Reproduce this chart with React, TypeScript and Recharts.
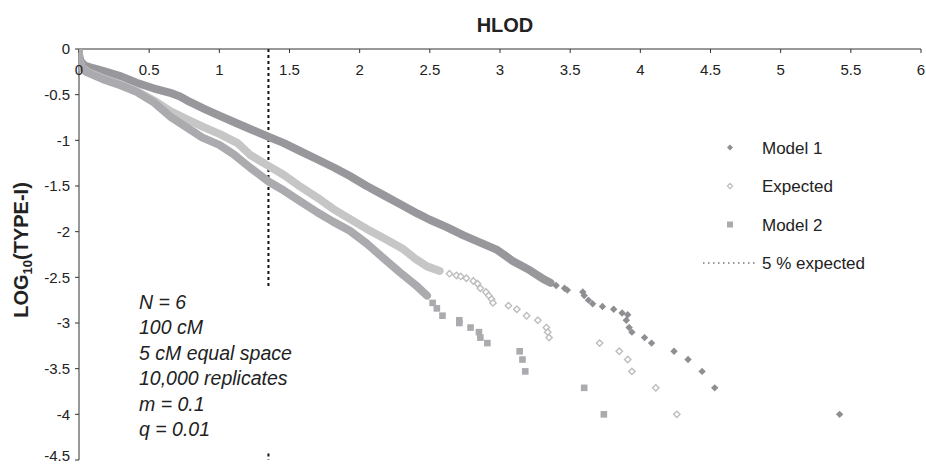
import React from 'react';
import { ScatterChart, Scatter, XAxis, YAxis, ReferenceLine } from 'recharts';

const xTicks = [0, 0.5, 1, 1.5, 2, 2.5, 3, 3.5, 4, 4.5, 5, 5.5, 6];
const yTicks = [0, -0.5, -1, -1.5, -2, -2.5, -3, -3.5, -4, -4.5];

// HLOD cut-off for 5 % expected type-I error
const cutoffX = 1.35;

// dense part of each curve: the points overlap into a solid band
const model1Band: [number, number][] = [
  [0.0, -0.06], [0.01, -0.13], [0.04, -0.18], [0.1, -0.21], [0.17, -0.24], [0.3, -0.3],
  [0.41, -0.37], [0.53, -0.43], [0.65, -0.48], [0.72, -0.52], [0.79, -0.58], [0.9, -0.66],
  [1.0, -0.73], [1.12, -0.81], [1.24, -0.89], [1.35, -0.96], [1.46, -1.03], [1.58, -1.12],
  [1.7, -1.21], [1.82, -1.3], [1.93, -1.39], [2.05, -1.5], [2.17, -1.6], [2.29, -1.7],
  [2.41, -1.8], [2.5, -1.87], [2.62, -1.95], [2.74, -2.04], [2.86, -2.12], [2.98, -2.2],
  [3.09, -2.32], [3.21, -2.42], [3.31, -2.52], [3.36, -2.56],
];
const model1Tail: [number, number][] = [
  [3.4, -2.59], [3.46, -2.62], [3.48, -2.64], [3.59, -2.66], [3.6, -2.7], [3.63, -2.75],
  [3.66, -2.79], [3.73, -2.82], [3.81, -2.85], [3.87, -2.89], [3.91, -2.91], [3.9, -2.97],
  [3.92, -3.05], [3.94, -3.1], [4.03, -3.16], [4.08, -3.22], [4.24, -3.31], [4.34, -3.4],
  [4.44, -3.53], [4.53, -3.71], [5.42, -4.0],
];

const expectedBand: [number, number][] = [
  [0.0, -0.03], [0.0, -0.12], [0.02, -0.2], [0.06, -0.25], [0.17, -0.32], [0.3, -0.39],
  [0.41, -0.46], [0.53, -0.56], [0.65, -0.68], [0.77, -0.77], [0.88, -0.85], [1.0, -0.93],
  [1.13, -1.03], [1.22, -1.16], [1.35, -1.28], [1.46, -1.38], [1.58, -1.51], [1.72, -1.65],
  [1.81, -1.75], [1.93, -1.86], [2.05, -1.97], [2.17, -2.07], [2.31, -2.19], [2.4, -2.3],
  [2.48, -2.38], [2.57, -2.43],
];
const expectedTail: [number, number][] = [
  [2.64, -2.46], [2.69, -2.48], [2.72, -2.49], [2.76, -2.51], [2.81, -2.54], [2.84, -2.57],
  [2.86, -2.62], [2.9, -2.66], [2.92, -2.7], [2.94, -2.74], [2.95, -2.78], [3.06, -2.81],
  [3.12, -2.85], [3.19, -2.92], [3.27, -2.97], [3.33, -3.05], [3.34, -3.1], [3.35, -3.16],
  [3.71, -3.22], [3.85, -3.31], [3.91, -3.4], [3.94, -3.53], [4.11, -3.71], [4.26, -4.0],
];

const model2Band: [number, number][] = [
  [0.0, 0.0], [0.0, -0.1], [0.01, -0.18], [0.05, -0.25], [0.17, -0.33], [0.3, -0.4],
  [0.41, -0.47], [0.53, -0.58], [0.65, -0.74], [0.77, -0.86], [0.88, -0.97], [1.0, -1.05],
  [1.1, -1.15], [1.22, -1.3], [1.35, -1.45], [1.46, -1.55], [1.58, -1.67], [1.7, -1.79],
  [1.81, -1.89], [1.93, -1.99], [2.05, -2.13], [2.17, -2.29], [2.29, -2.45], [2.41, -2.6],
  [2.48, -2.7],
];
const model2Tail: [number, number][] = [
  [2.52, -2.78], [2.55, -2.84], [2.59, -2.92], [2.71, -2.97], [2.71, -3.0], [2.79, -3.05],
  [2.85, -3.1], [2.86, -3.16], [2.91, -3.22], [3.14, -3.31], [3.16, -3.4], [3.18, -3.53],
  [3.6, -3.71], [3.74, -4.0],
];

const notes = ['N = 6', '100 cM', '5 cM equal space', '10,000 replicates', 'm = 0.1', 'q = 0.01'];

const FONT = '"Liberation Sans", Arial, sans-serif';
const TEXT = '#222';
const MODEL1 = '#8f8f93';
const MODEL1_BAND = '#98989c';
const EXPECTED = '#bdbdbd';
const EXPECTED_BAND = '#c6c6c6';
const MODEL2 = '#ababaf';

const toPoints = (pts: [number, number][]) => pts.map(([x, y]) => ({ x, y }));

const DiamondDot = (props: any) => {
  const { cx, cy } = props;
  const r = 3.7;
  return <path d={`M${cx},${cy - r}L${cx + r},${cy}L${cx},${cy + r}L${cx - r},${cy}Z`} fill={MODEL1} />;
};

const OpenDiamondDot = (props: any) => {
  const { cx, cy } = props;
  const r = 3.2;
  return (
    <path
      d={`M${cx},${cy - r}L${cx + r},${cy}L${cx},${cy + r}L${cx - r},${cy}Z`}
      fill="#fff"
      stroke={EXPECTED}
      strokeWidth={1.4}
    />
  );
};

const SquareDot = (props: any) => {
  const { cx, cy } = props;
  return <rect x={cx - 3.3} y={cy - 3.3} width={6.6} height={6.6} fill={MODEL2} />;
};

const NoDot = () => <g />;

const legendItems = [
  { name: 'Model 1', kind: 'diamond' },
  { name: 'Expected', kind: 'open' },
  { name: 'Model 2', kind: 'square' },
  { name: '5 % expected', kind: 'dotted' },
];

const LegendMarker = ({ kind, cy }: { kind: string; cy: number }) => {
  const cx = 730;
  if (kind === 'diamond') {
    const r = 3;
    return <path d={`M${cx},${cy - r}L${cx + r},${cy}L${cx},${cy + r}L${cx - r},${cy}Z`} fill={MODEL1} />;
  }
  if (kind === 'open') {
    const r = 2.6;
    return (
      <path
        d={`M${cx},${cy - r}L${cx + r},${cy}L${cx},${cy + r}L${cx - r},${cy}Z`}
        fill="#fff"
        stroke={EXPECTED}
        strokeWidth={1.2}
      />
    );
  }
  if (kind === 'square') {
    return <rect x={cx - 3} y={cy - 3} width={6} height={6} fill={MODEL2} />;
  }
  return <line x1={703} x2={756} y1={cy} y2={cy} stroke="#333" strokeWidth={1} strokeDasharray="1.5 3.5" />;
};

const Overlay = () => (
  <svg
    width={926}
    height={464}
    style={{ position: 'absolute', left: 0, top: 0, pointerEvents: 'none', fontFamily: FONT }}
  >
    <text x={505} y={31.5} textAnchor="middle" fontSize={20} fontWeight="bold" fill={TEXT}>
      HLOD
    </text>
    <text transform="translate(28,250) rotate(-90)" textAnchor="middle" fontSize={20} fontWeight="bold" fill={TEXT}>
      LOG
      <tspan fontSize={13} dy={4}>10</tspan>
      <tspan dy={-4}>(TYPE-I)</tspan>
    </text>
    {notes.map((line, i) => (
      <text key={line} x={139} y={308.5 + i * 25.5} fontSize={19.5} fontStyle="italic" fill={TEXT}>
        {line}
      </text>
    ))}
    {legendItems.map((item, i) => {
      const cy = 147.5 + i * 38.5;
      return (
        <g key={item.name}>
          <LegendMarker kind={item.kind} cy={cy} />
          <text x={762} y={cy + 6} fontSize={17} fill={TEXT}>
            {item.name}
          </text>
        </g>
      );
    })}
  </svg>
);

export default function App() {
  return (
    <div style={{ position: 'fixed', left: 0, top: 0, width: 926, height: 464, background: '#fff' }}>
      <ScatterChart
        width={926}
        height={464}
        margin={{ top: 49, right: 5, bottom: 4, left: 0 }}
        style={{ fontFamily: FONT }}
      >
        <XAxis
          type="number"
          dataKey="x"
          orientation="top"
          mirror
          domain={[0, 6]}
          ticks={xTicks}
          allowDataOverflow
          tickSize={4}
          tickMargin={11}
          stroke="#333"
          tick={{ fill: TEXT, fontSize: 15 }}
        />
        <YAxis
          type="number"
          dataKey="y"
          domain={[-4.5, 0]}
          ticks={yTicks}
          allowDataOverflow
          width={79}
          tickSize={4}
          tickMargin={5}
          stroke="#333"
          tick={{ fill: TEXT, fontSize: 15 }}
        />
        <ReferenceLine
          segment={[{ x: cutoffX, y: 0 }, { x: cutoffX, y: -2.62 }]}
          stroke="#111"
          strokeWidth={2}
          strokeDasharray="3 3"
          ifOverflow="visible"
        />
        <ReferenceLine
          segment={[{ x: cutoffX, y: -4.43 }, { x: cutoffX, y: -4.5 }]}
          stroke="#111"
          strokeWidth={2}
          strokeDasharray="3 3"
          ifOverflow="visible"
        />
        <Scatter
          name="Model 1"
          data={toPoints(model1Band)}
          line={{ stroke: MODEL1_BAND, strokeWidth: 8, strokeLinejoin: 'round', strokeLinecap: 'round' }}
          lineType="joint"
          shape={NoDot}
          isAnimationActive={false}
        />
        <Scatter name="Model 1 tail" data={toPoints(model1Tail)} shape={DiamondDot} isAnimationActive={false} />
        <Scatter
          name="Expected"
          data={toPoints(expectedBand)}
          line={{ stroke: EXPECTED_BAND, strokeWidth: 8, strokeLinejoin: 'round', strokeLinecap: 'round' }}
          lineType="joint"
          shape={NoDot}
          isAnimationActive={false}
        />
        <Scatter name="Expected tail" data={toPoints(expectedTail)} shape={OpenDiamondDot} isAnimationActive={false} />
        <Scatter
          name="Model 2"
          data={toPoints(model2Band)}
          line={{ stroke: MODEL2, strokeWidth: 8, strokeLinejoin: 'round', strokeLinecap: 'round' }}
          lineType="joint"
          shape={NoDot}
          isAnimationActive={false}
        />
        <Scatter name="Model 2 tail" data={toPoints(model2Tail)} shape={SquareDot} isAnimationActive={false} />
      </ScatterChart>
      <Overlay />
    </div>
  );
}
